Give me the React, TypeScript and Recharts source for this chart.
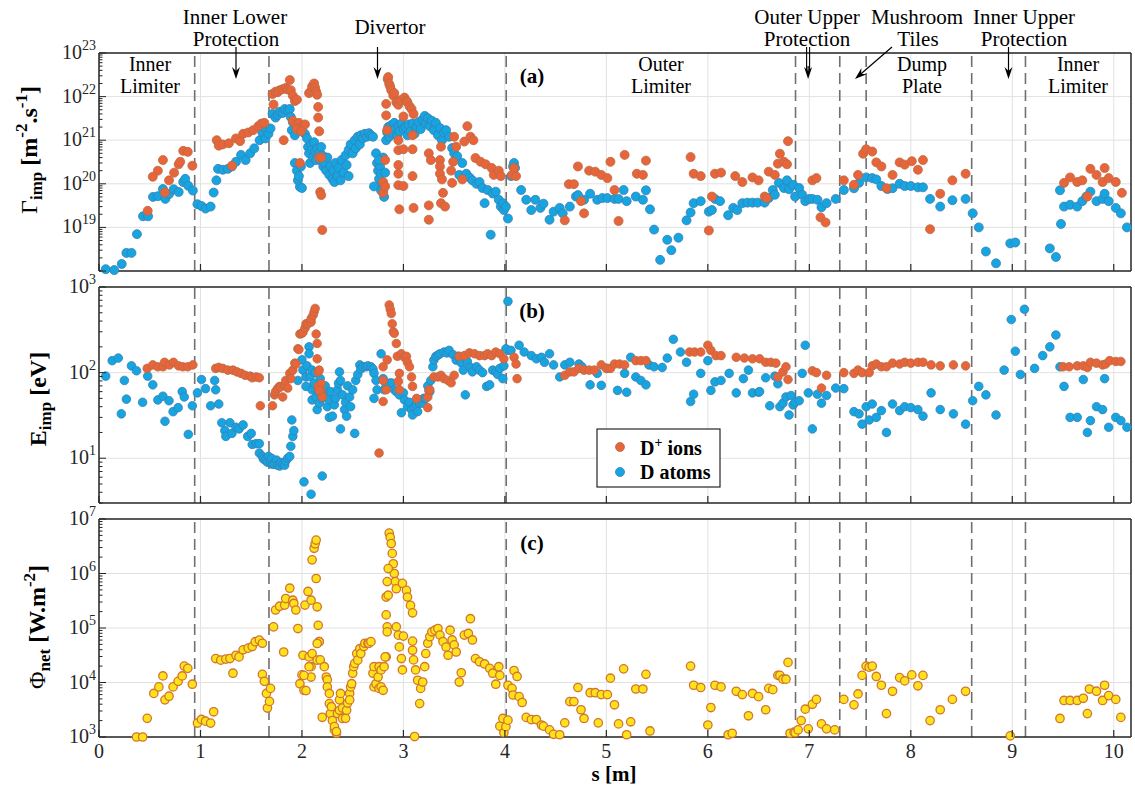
import React from 'react';
import { ScatterChart, Scatter, XAxis, YAxis, ReferenceLine } from 'recharts';

const W = 1135;
const H = 785;
const FONT = 'Liberation Serif, Times New Roman, DejaVu Serif, serif';
const AXIS = '#262626';
const GRID = '#e2e2e2';
const DASH = '#707070';
const X_MAX = 10.17;

const xTicks = [0, 1, 2, 3, 4, 5, 6, 7, 8, 9, 10];
// tile boundaries along s [m]
const boundaries = [0.943, 1.675, 4.013, 6.864, 7.3, 7.56, 8.6, 9.13];

// (a) impurity flux [m^-2.s^-1]
const fluxIons: [number, number][] = [
  [0.48, 2.4e19], [0.53, 1.45e20], [0.58, 2e20], [0.63, 3.5e20], [0.65, 6.3e19], [0.69, 1.2e20], [0.74, 1.8e20],
  [0.785, 2.8e20], [0.8, 3.2e20], [0.83, 5.7e20], [0.875, 5.4e20], [0.92, 2.6e20],
  [1.16, 1e21], [1.18, 7.5e20], [1.22, 8e20], [1.28, 8.5e20], [1.31, 2.6e20], [1.35, 1.1e21], [1.39, 9.5e20],
  [1.42, 1.4e21], [1.47, 1.5e21], [1.52, 1.7e21], [1.57, 2.1e21], [1.6, 2.4e21], [1.63, 2.5e21],
  [1.71, 1.15e22], [1.72, 6.6e21], [1.74, 1.3e22], [1.76, 1.26e22], [1.78, 1.4e22], [1.81, 1.48e22], [1.84, 1.58e22],
  [1.86, 1.45e22], [1.88, 2.4e22], [1.89, 1.4e22], [1.91, 1.05e22], [1.93, 7.9e21], [1.95, 8.5e21], [1.82, 1e21],
  [1.91, 2.8e21], [1.94, 2.2e21], [1.97, 2.5e21], [2.0, 2e21], [2.03, 2.3e21], [1.95, 1.8e21], [1.99, 1.6e21], [1.98, 3e20],
  [2.07, 1.2e22], [2.09, 1.35e22], [2.1, 1.7e22], [2.12, 2e22], [2.13, 1.6e22], [2.14, 1.3e22], [2.15, 1.1e22],
  [2.16, 5.8e21], [2.16, 3.3e21], [2.17, 1.6e21], [2.17, 4e20], [2.18, 6.5e19], [2.19, 5.5e19], [2.2, 8.7e18], [2.19, 4e20],
  [2.83, 6.8e21], [2.83, 3.7e21], [2.84, 1.7e21], [2.82, 3.5e20], [2.8, 1.1e20], [2.8, 6.2e19], [2.82, 8.7e19],
  [2.845, 2.5e22], [2.85, 2.8e22], [2.86, 1.95e22], [2.87, 1.7e22], [2.88, 1.4e22], [2.9, 1.05e22], [2.91, 1.2e22],
  [2.93, 7.4e21], [2.95, 6.5e21], [2.97, 8.3e21], [3.01, 9.5e21], [3.03, 8e21], [3.04, 7.4e21], [3.06, 6e21],
  [3.08, 5.2e21], [3.1, 4e21], [3.0, 3.5e21],
  [2.95, 1e21], [2.95, 5.9e20], [2.95, 2.7e20], [2.95, 1.7e20], [2.95, 9.3e19], [3.0, 6.2e20], [3.0, 8.9e19],
  [2.96, 2.6e19], [3.09, 6.2e20], [3.09, 1.5e20], [3.1, 2.8e19], [3.09, 1.3e21], [3.25, 5e20], [3.27, 3.5e20],
  [3.36, 3.5e20], [3.36, 2.5e20], [3.36, 1.7e20], [3.38, 1.26e20], [3.37, 7.1e20], [3.39, 6.2e19], [3.37, 3.6e19],
  [3.41, 3e19], [3.25, 3.2e19], [3.25, 1.5e19], [3.47, 2e20], [3.49, 3.2e20], [3.48, 1.05e20], [3.5, 1.2e21],
  [3.52, 7.1e20], [3.58, 1.26e20], [3.6, 9.3e20], [3.63, 2.1e21], [3.66, 1.2e21], [3.69, 1e21], [3.71, 3.9e20],
  [3.76, 3.2e20], [3.81, 2.8e20], [3.87, 2.3e20], [3.89, 1.6e20], [3.94, 2e20], [3.96, 1.5e20],
  [4.07, 1.6e20], [4.09, 2.3e20], [4.11, 1.5e20],
  [4.59, 1.45e19], [4.63, 9.8e19], [4.68, 9.8e19], [4.72, 2.5e20], [4.75, 4e19], [4.78, 2.1e19], [4.83, 2e20],
  [4.89, 1.9e20], [4.95, 1.6e20], [5.01, 1.35e20], [5.04, 3.2e20], [5.08, 7.2e19], [5.12, 1.4e19], [5.18, 4.6e20],
  [5.3, 1.7e20], [5.36, 1.6e20], [5.39, 3.4e20], [5.83, 4.1e20], [5.86, 1.7e20], [5.93, 1.5e20], [6.01, 8.5e18],
  [6.04, 5.1e19], [6.07, 1.7e20], [6.13, 1.8e20], [6.27, 1.5e20], [6.34, 1.1e20], [6.44, 1.4e20], [6.5, 1.2e20],
  [6.56, 5.1e19], [6.6, 1.9e20], [6.66, 1.6e20], [6.58, 4.7e19], [6.69, 2.9e20], [6.71, 4.9e20], [6.75, 3.2e20],
  [6.78, 2.8e20], [6.79, 9.5e20], [7.03, 1.2e20], [7.07, 1.35e20], [7.11, 1.7e19], [7.16, 1.3e19], [7.34, 1.2e20],
  [7.44, 9.5e19], [7.48, 1.6e20], [7.53, 4.9e20], [7.56, 6.2e20], [7.62, 5.5e20], [7.66, 3.1e20], [7.71, 2.5e20],
  [7.76, 7.9e19], [7.82, 1.6e20], [7.89, 3.1e20], [7.94, 2.75e20], [8.01, 3.3e20], [8.07, 2.1e20], [8.12, 3.5e20],
  [8.19, 9.1e18], [8.29, 5.9e19], [8.41, 1.2e20], [8.54, 1.7e20], [9.51, 1.05e20], [9.57, 1.4e20], [9.64, 1.1e20],
  [9.69, 1.2e20], [9.74, 5.1e19], [9.77, 2.2e20], [9.83, 1.6e20], [9.89, 1.1e20], [9.91, 2.3e20], [9.95, 1.35e20],
  [10.02, 1.1e20], [10.08, 6.2e19],
];

const fluxAtoms: [number, number][] = [
  [0.066, 1.1e18], [0.15, 1.05e18], [0.224, 1.45e18], [0.27, 2.6e18], [0.32, 2.6e18], [0.374, 7e18], [0.434, 1.8e19],
  [0.484, 1.8e19], [0.532, 5e19], [0.58, 5.2e19], [0.63, 7.6e19], [0.654, 4.5e19], [0.69, 5.8e19], [0.736, 7.5e19],
  [0.785, 6.5e19], [0.83, 1.1e20], [0.85, 1.3e20], [0.88, 9e19], [0.925, 7e19], [0.97, 3.4e19], [1.01, 3.1e19],
  [1.05, 2.7e19], [1.1, 3e19], [1.13, 6.3e19], [1.157, 1.2e20], [1.173, 2.2e20], [1.22, 2.1e20], [1.27, 2.2e20],
  [1.31, 2.5e20], [1.35, 3.2e20], [1.4, 4.6e20], [1.445, 3.5e20], [1.49, 5e20], [1.53, 6.5e20], [1.583, 1e21],
  [1.61, 1.5e21], [1.64, 1.9e21], [1.64, 1.1e21], [1.67, 1.4e21], [1.69, 1.86e21],
  [1.71, 4e21], [1.74, 3.3e21], [1.76, 3.8e21], [1.78, 4.5e21], [1.81, 4.2e21], [1.83, 5.2e21], [1.86, 4.8e21],
  [1.88, 5.2e21], [1.89, 3.4e21], [1.91, 2.6e21], [1.9, 1.7e21], [1.93, 1.3e21],
  [1.93, 3e20], [1.95, 2e20], [1.96, 1.2e20], [1.98, 8.5e19], [2.0, 8e19], [1.97, 1.5e20], [1.99, 2.5e20],
  [2.03, 1.4e21], [2.05, 1.1e21], [2.06, 7e20], [2.07, 5e20], [2.08, 3e20], [2.09, 8e20], [2.1, 6e20], [2.11, 4e20],
  [2.12, 9e20], [2.13, 5.5e20], [2.14, 3.5e20], [2.15, 6.5e20], [2.17, 5e20], [2.18, 3.5e20], [2.19, 7e20],
  [2.2, 4.5e20], [2.21, 2.5e20], [2.22, 3e20], [2.24, 2e20], [2.25, 4e20], [2.27, 1.6e20], [2.28, 2.6e20],
  [2.3, 1.3e20], [2.31, 2e20], [2.32, 1.1e20], [2.33, 3e20], [2.35, 1.5e20], [2.36, 2.3e20], [2.38, 1.2e20],
  [2.39, 3.5e20], [2.41, 1.8e20], [2.43, 4.5e20], [2.44, 2.7e20], [2.46, 1.5e20], [2.46, 6e20],
  [2.48, 8e20], [2.5, 5e20], [2.52, 1e21], [2.53, 6.5e20], [2.55, 1.2e21], [2.57, 8e20], [2.58, 1.3e21],
  [2.6, 1.1e21], [2.62, 1.4e21], [2.64, 1.2e21], [2.66, 1.45e21], [2.68, 1.3e21], [2.7, 1.2e21],
  [2.73, 5e20], [2.74, 3e20], [2.75, 2e20], [2.76, 1.3e20], [2.77, 2.5e20], [2.78, 1.7e20], [2.79, 1e20],
  [2.8, 7e19], [2.81, 5e19], [2.78, 7e19], [2.8, 4e20], [2.82, 1.8e20], [2.76, 3.5e20], [2.71, 8.7e19],
  [2.83, 1e21], [2.84, 1.5e21], [2.85, 2e21], [2.86, 1.2e21], [2.87, 1.7e21], [2.88, 2.2e21], [2.9, 1.4e21],
  [2.91, 2.5e21], [2.92, 1.8e21], [2.94, 1.3e21], [2.95, 2.1e21], [2.96, 1.6e21], [2.98, 2.4e21], [3.0, 1.8e21],
  [3.02, 2e21], [3.04, 1.3e21], [3.05, 2.3e21], [3.07, 1.6e21], [3.09, 2.4e21], [3.11, 1.4e21], [3.13, 2e21],
  [3.15, 2.6e21], [3.17, 1.8e21], [3.19, 3e21], [3.21, 3.6e21], [3.22, 2.4e21], [3.24, 3.2e21], [3.26, 2.1e21],
  [3.28, 2.8e21], [3.3, 1.7e21], [3.32, 2.5e21], [3.34, 1.3e21], [3.36, 1.9e21], [3.38, 1e21], [3.4, 1.5e21],
  [3.42, 1.7e21], [3.45, 1.2e21], [3.48, 6.6e20], [3.5, 5e20], [3.53, 4.3e20], [3.55, 1.6e20], [3.58, 3e20],
  [3.62, 1.7e20], [3.65, 1.4e20], [3.68, 1.2e20], [3.72, 1e20], [3.75, 1.1e20], [3.78, 8e19], [3.8, 3.6e19],
  [3.83, 7.2e19], [3.86, 6.8e18], [3.88, 6e19], [3.91, 6.6e19], [3.94, 4.3e19], [3.96, 3e19], [3.98, 3.6e19],
  [3.99, 2.5e19], [4.01, 3e19], [4.03, 1.6e19], [4.06, 1.5e20], [4.08, 2.5e20], [4.09, 3e20], [4.1, 2.3e20],
  [4.16, 7.2e19], [4.21, 4.3e19], [4.26, 2.5e19], [4.3, 4.3e19], [4.35, 2.8e19], [4.38, 3.5e19], [4.44, 1.5e19],
  [4.48, 2.3e19], [4.54, 2.8e19], [4.57, 2.1e19], [4.64, 3e19], [4.7, 5.1e19], [4.72, 5.5e19], [4.78, 4.3e19],
  [4.84, 5.9e19], [4.91, 4.3e19], [4.96, 4.7e19], [5.01, 4.7e19], [5.08, 4.5e19], [5.12, 4.5e19], [5.17, 7.2e19],
  [5.2, 4e19], [5.29, 5.1e19], [5.36, 4.3e19], [5.39, 7.1e19], [5.43, 2.6e19], [5.47, 8.9e18], [5.53, 1.8e18],
  [5.6, 5.2e18], [5.64, 3e18], [5.71, 5.8e18], [5.79, 1.45e19], [5.83, 2.2e19], [5.86, 3.6e19], [5.93, 4e19],
  [6.01, 2.3e19], [6.04, 2.5e19], [6.07, 4.5e19], [6.12, 4e19], [6.2, 1.9e19], [6.25, 2.8e19], [6.29, 2.5e19],
  [6.34, 3.6e19], [6.39, 3.7e19], [6.44, 3.7e19], [6.49, 3.7e19], [6.56, 3.7e19], [6.6, 4.7e19], [6.64, 7.2e19],
  [6.66, 5.6e19], [6.7, 1.05e20], [6.75, 8e19], [6.78, 1.2e20], [6.8, 7.5e19], [6.84, 9.5e19], [6.86, 5.1e19],
  [6.9, 8e19], [6.93, 5.6e19], [6.96, 4e19], [7.0, 4.5e19], [7.03, 4.5e19], [7.08, 4.3e19], [7.12, 2.9e19],
  [7.17, 3.6e19], [7.26, 4.5e19], [7.34, 7.2e19], [7.44, 7.9e19], [7.49, 1.05e20], [7.56, 1.4e20], [7.62, 1.35e20],
  [7.66, 1.26e20], [7.71, 8.9e19], [7.77, 7.6e19], [7.82, 7.9e19], [7.89, 1e20], [7.94, 8.9e19], [8.0, 8.9e19],
  [8.07, 8.3e19], [8.12, 8.3e19], [8.19, 4.5e19], [8.29, 3e19], [8.41, 4.2e19], [8.54, 4.5e19], [8.61, 2.1e19],
  [8.67, 1e19], [8.74, 2.8e18], [8.84, 1.5e18], [8.98, 4.3e18], [9.03, 4.5e18], [9.37, 3.3e18], [9.43, 2.1e18],
  [9.48, 1.2e19], [9.47, 7.1e19], [9.51, 3e19], [9.57, 3.3e19], [9.64, 3e19], [9.69, 4e19], [9.73, 5.1e19],
  [9.77, 6.6e19], [9.83, 4e19], [9.89, 4.5e19], [9.91, 5.9e19], [9.95, 4e19], [10.02, 2.8e19], [10.07, 2.1e19],
  [10.13, 1e19],
];

// (b) impact energy [eV]
const energyIons: [number, number][] = [
  [0.475, 112], [0.53, 123], [0.58, 117], [0.63, 117], [0.646, 132], [0.695, 123], [0.734, 132], [0.784, 120],
  [0.826, 117], [0.875, 117], [0.925, 123], [1.15, 112], [1.18, 115], [1.22, 112], [1.27, 107], [1.32, 107],
  [1.36, 102], [1.4, 98], [1.44, 93], [1.49, 91], [1.51, 87], [1.55, 89], [1.58, 87], [1.59, 41],
  [1.71, 41], [1.73, 55], [1.74, 60], [1.76, 65], [1.78, 69], [1.79, 68], [1.81, 52], [1.83, 71], [1.84, 81],
  [1.86, 66], [1.88, 98], [1.89, 85], [1.91, 107], [1.93, 129], [1.94, 126], [1.96, 190], [1.97, 186], [1.98, 282],
  [2.0, 288], [2.01, 295], [2.03, 331], [2.04, 372], [2.06, 372], [2.09, 389], [2.09, 427], [2.11, 468],
  [2.12, 513], [2.13, 562], [2.14, 282], [2.15, 219], [2.15, 145], [2.16, 102], [2.16, 69], [2.17, 107],
  [2.19, 74], [2.19, 60], [2.2, 52], [2.17, 62],
  [2.76, 11.5], [2.8, 117], [2.8, 81], [2.8, 46], [2.83, 63], [2.84, 141], [2.86, 617], [2.87, 550], [2.88, 490],
  [2.89, 372], [2.9, 300], [2.91, 288], [2.93, 219], [2.94, 155], [2.96, 98], [2.95, 79], [2.96, 63], [2.98, 166],
  [3.01, 151], [3.03, 155], [3.04, 132], [3.06, 117], [3.08, 89], [3.09, 69], [3.13, 50], [3.24, 39], [3.24, 52],
  [3.25, 62], [3.26, 63], [3.3, 89], [3.34, 89], [3.37, 93], [3.4, 85], [3.44, 81], [3.47, 76], [3.5, 93],
  [3.55, 155], [3.6, 158], [3.65, 170], [3.7, 166], [3.75, 158], [3.8, 158], [3.83, 166], [3.87, 158], [3.91, 174],
  [3.95, 166], [3.99, 145], [4.09, 151], [4.11, 126], [4.12, 85],
  [4.59, 93], [4.64, 102], [4.68, 102], [4.73, 112], [4.78, 107], [4.83, 107], [4.88, 107], [4.95, 123], [5.0, 112],
  [5.04, 112], [5.08, 126], [5.13, 126], [5.18, 123], [5.29, 138], [5.34, 138], [5.39, 138], [5.82, 174],
  [5.87, 174], [5.93, 174], [6.0, 209], [6.03, 182], [6.08, 158], [6.13, 158], [6.28, 151], [6.36, 148],
  [6.44, 145], [6.51, 145], [6.57, 132], [6.62, 132], [6.67, 129], [6.69, 89], [6.74, 102], [6.77, 117], [6.79, 83],
  [7.03, 105], [7.07, 100], [7.12, 66], [7.17, 93], [7.34, 100], [7.44, 98], [7.48, 107], [7.52, 100], [7.59, 100],
  [7.62, 120], [7.66, 126], [7.71, 117], [7.76, 117], [7.82, 129], [7.89, 126], [7.94, 132], [8.0, 129],
  [8.07, 132], [8.12, 132], [8.2, 123], [8.29, 120], [8.42, 123], [8.54, 120], [9.5, 117], [9.56, 117],
  [9.64, 120], [9.7, 120], [9.74, 115], [9.77, 132], [9.83, 129], [9.89, 123], [9.92, 126], [9.96, 138],
  [10.02, 135], [10.07, 135],
];

const energyAtoms: [number, number][] = [
  [0.066, 91], [0.13, 138], [0.19, 148], [0.22, 33], [0.25, 81], [0.27, 49], [0.32, 120], [0.37, 105], [0.43, 45],
  [0.48, 91], [0.53, 72], [0.58, 48], [0.63, 53], [0.65, 27], [0.69, 47], [0.73, 35], [0.78, 39], [0.82, 60],
  [0.84, 52], [0.88, 19], [0.92, 41], [0.97, 58], [1.01, 83], [1.05, 65], [1.1, 41], [1.14, 81], [1.15, 63],
  [1.18, 43], [1.21, 26], [1.24, 21], [1.25, 18], [1.29, 26], [1.31, 19.5], [1.35, 23], [1.38, 22], [1.42, 24.5],
  [1.465, 18], [1.5, 19.5], [1.51, 14.5], [1.55, 14.8], [1.58, 14.8], [1.58, 11.5], [1.61, 10.5], [1.62, 9.8],
  [1.64, 9.5], [1.66, 9], [1.67, 10.5], [1.69, 8.9], [1.7, 10], [1.71, 8.5], [1.73, 8.5], [1.75, 9.5], [1.76, 8.3],
  [1.78, 8.1], [1.79, 8.9], [1.81, 8.5], [1.83, 8.3], [1.84, 9.3], [1.86, 10], [1.88, 10.5], [1.89, 13.8],
  [1.91, 18], [1.92, 21], [1.9, 28],
  [1.96, 81], [2.0, 141], [2.01, 107], [2.02, 5.3], [2.04, 89], [2.04, 69], [2.05, 120], [2.07, 200], [2.07, 166],
  [2.08, 90], [2.09, 3.8], [2.1, 107], [2.1, 63], [2.1, 48], [2.12, 75], [2.13, 100], [2.14, 52], [2.15, 37],
  [2.16, 60], [2.17, 44], [2.18, 85], [2.2, 6.2], [2.2, 50], [2.22, 58], [2.23, 70], [2.25, 40], [2.27, 48],
  [2.27, 30], [2.28, 60], [2.3, 31], [2.32, 42], [2.33, 50], [2.35, 63], [2.36, 75], [2.37, 102], [2.38, 81],
  [2.38, 22], [2.4, 55], [2.42, 37], [2.43, 45], [2.44, 31], [2.45, 70], [2.47, 52], [2.48, 40], [2.5, 63],
  [2.52, 19.5], [2.53, 81], [2.55, 95], [2.57, 123], [2.58, 110], [2.6, 117], [2.63, 117], [2.65, 120],
  [2.68, 117], [2.7, 110], [2.71, 98], [2.73, 81], [2.71, 50], [2.74, 63], [2.78, 166], [2.8, 85], [2.81, 63],
  [2.83, 69], [2.85, 75], [2.88, 76], [2.91, 63], [2.93, 60], [2.96, 55], [2.98, 34], [3.0, 58], [3.01, 48],
  [3.04, 40], [3.06, 45], [3.08, 37], [3.09, 32], [3.11, 40], [3.13, 42], [3.14, 35], [3.16, 44], [3.19, 44],
  [3.2, 50], [3.22, 50], [3.24, 70], [3.26, 60], [3.27, 81], [3.29, 117], [3.3, 140], [3.32, 155], [3.34, 160],
  [3.36, 166], [3.4, 174], [3.43, 170], [3.45, 182], [3.49, 162], [3.52, 140], [3.54, 155], [3.57, 130],
  [3.59, 107], [3.61, 55], [3.63, 135], [3.66, 115], [3.68, 102], [3.72, 117], [3.75, 107], [3.78, 100],
  [3.82, 69], [3.85, 72], [3.88, 107], [3.91, 102], [3.93, 95], [3.95, 112], [3.98, 85], [3.99, 120],
  [4.03, 680], [4.03, 182], [4.01, 190], [4.06, 182], [4.14, 209], [4.19, 174], [4.26, 158], [4.31, 145],
  [4.36, 151], [4.39, 132], [4.44, 166], [4.48, 123], [4.54, 89], [4.59, 123], [4.64, 132], [4.73, 126],
  [4.76, 117], [4.84, 72], [4.91, 98], [4.95, 71], [5.01, 112], [5.11, 62], [5.18, 98], [5.2, 59], [5.24, 151],
  [5.29, 89], [5.34, 81], [5.39, 72], [5.42, 123], [5.47, 117], [5.55, 115], [5.6, 148], [5.66, 245], [5.73, 174],
  [5.79, 132], [5.83, 46], [5.86, 56], [5.93, 98], [6.0, 138], [6.03, 62], [6.07, 78], [6.13, 81], [6.21, 98],
  [6.28, 58], [6.35, 85], [6.4, 107], [6.44, 58], [6.5, 59], [6.51, 60], [6.57, 87], [6.61, 41], [6.66, 91],
  [6.69, 74], [6.71, 40], [6.74, 44], [6.77, 52], [6.8, 32], [6.82, 54], [6.84, 42], [6.86, 45], [6.9, 47],
  [6.93, 98], [6.96, 209], [6.99, 58], [7.03, 22], [7.08, 56], [7.12, 44], [7.17, 54], [7.26, 66], [7.34, 65],
  [7.44, 35], [7.49, 33], [7.52, 25], [7.56, 40], [7.59, 28], [7.62, 43], [7.66, 30], [7.71, 36], [7.76, 20],
  [7.82, 43], [7.89, 36], [7.94, 40], [8.0, 39], [8.07, 37], [8.12, 31], [8.2, 58], [8.29, 37], [8.42, 33],
  [8.54, 25], [8.61, 47], [8.67, 69], [8.74, 55], [8.84, 32], [8.92, 107], [8.99, 417], [9.03, 178], [9.08, 95],
  [9.12, 550], [9.22, 112], [9.3, 158], [9.37, 200], [9.43, 275], [9.47, 117], [9.51, 69], [9.57, 30], [9.64, 30],
  [9.7, 83], [9.74, 20], [9.77, 27.5], [9.83, 40], [9.89, 37], [9.91, 85], [9.95, 23], [10.02, 30], [10.07, 27.5],
  [10.13, 23],
];

// (c) net heat flux [W.m^-2]
const heatFlux: [number, number][] = [
  [0.37, 1000], [0.43, 1000], [0.475, 2200], [0.54, 6300], [0.59, 8300], [0.63, 13200], [0.65, 4800], [0.69, 5600],
  [0.73, 8300], [0.78, 10500], [0.82, 13200], [0.84, 20000], [0.875, 18200], [0.92, 9300], [0.97, 1800],
  [1.01, 2100], [1.05, 1950], [1.1, 1800], [1.13, 2900], [1.15, 27500], [1.2, 25700], [1.25, 26900], [1.29, 27500],
  [1.32, 14800], [1.35, 31600], [1.38, 29500], [1.42, 39800], [1.47, 42700], [1.51, 45700], [1.54, 56000],
  [1.58, 60000], [1.61, 52500], [1.61, 14100], [1.63, 10500], [1.65, 6300], [1.66, 3400], [1.69, 7800], [1.68, 4500],
  [1.72, 105000], [1.74, 214000], [1.78, 251000], [1.83, 263000], [1.84, 347000], [1.88, 537000], [1.91, 324000],
  [1.92, 282000], [1.82, 36300], [1.94, 214000], [1.96, 97700], [1.98, 9500], [2.0, 13800], [2.01, 31600],
  [2.02, 7200], [2.03, 263000], [2.06, 468000], [2.09, 324000], [2.07, 29500], [2.09, 19500], [2.09, 12600],
  [2.02, 13500], [2.04, 7100], [2.07, 19500], [2.1, 33900], [2.15, 25700], [2.17, 56200],
  [2.1, 1.78e6], [2.12, 2.9e6], [2.13, 3.5e6], [2.14, 4.1e6], [2.14, 8.1e5], [2.15, 2.45e5], [2.16, 1.12e5],
  [2.17, 5.6e4], [2.18, 2.6e4], [2.15, 5.2e4], [2.2, 2300], [2.22, 19500], [2.24, 12600], [2.25, 11200],
  [2.25, 8300], [2.27, 6300], [2.27, 4100], [2.28, 2700], [2.29, 3600], [2.3, 2000], [2.32, 1350], [2.32, 1550],
  [2.34, 1170], [2.34, 1260], [2.35, 2700], [2.37, 4800], [2.37, 3090], [2.38, 6300], [2.4, 3400], [2.4, 2190],
  [2.43, 2200], [2.44, 3090], [2.45, 4200], [2.47, 6300], [2.47, 4790], [2.48, 8300], [2.49, 9500], [2.5, 14800],
  [2.51, 19500], [2.52, 22400], [2.54, 33900], [2.55, 25700], [2.57, 41700], [2.58, 33900], [2.61, 45700],
  [2.62, 52500], [2.65, 52500], [2.66, 52500], [2.68, 56200], [2.7, 14800], [2.71, 19500], [2.71, 8300],
  [2.73, 9500], [2.75, 12600], [2.76, 7800], [2.76, 19500], [2.78, 17000], [2.78, 8300], [2.8, 7200],
  [2.81, 19500], [2.83, 29500], [2.84, 1.05e5], [2.83, 3.7e5], [2.86, 5.5e6], [2.87, 4.6e6], [2.88, 3.55e6],
  [2.89, 2.34e6], [2.9, 1.51e6], [2.91, 1e6], [2.92, 7.1e5], [2.93, 5.25e5], [2.99, 6.6e5], [3.03, 4.9e5],
  [3.04, 3.7e5], [3.07, 2.6e5], [3.09, 1.9e5], [2.85, 1.23e6], [2.84, 7.1e5], [2.85, 4e5], [2.83, 1.74e5],
  [2.84, 8.5e4], [2.82, 2.95e4], [2.93, 1.05e5], [2.95, 7.4e4], [2.96, 4.5e4], [2.98, 2.75e4], [2.99, 1.7e4],
  [3.0, 7.1e4], [3.09, 5.75e4], [3.09, 3.9e4], [3.1, 2.6e4], [3.12, 1.7e4], [3.14, 1.1e4], [3.17, 7800],
  [3.16, 4100], [3.11, 1020], [3.19, 10200], [3.21, 19500], [3.22, 33900], [3.24, 52500], [3.26, 69200],
  [3.28, 85100], [3.31, 91200], [3.34, 97700], [3.36, 74100], [3.39, 56200], [3.42, 44700], [3.44, 31600],
  [3.46, 91200], [3.48, 60300], [3.5, 49000], [3.52, 36300], [3.55, 10200], [3.57, 15100], [3.6, 74100],
  [3.64, 79400], [3.66, 1.48e5], [3.68, 60300], [3.71, 27500], [3.75, 24000], [3.8, 21900], [3.85, 18200],
  [3.88, 14800], [3.91, 9300], [3.94, 19500], [3.95, 13500], [3.95, 1580], [3.98, 2190], [3.99, 1200],
  [4.01, 1550], [4.03, 2040], [4.03, 8900], [4.07, 7800], [4.08, 5900], [4.09, 16600], [4.12, 12900],
  [4.14, 5500], [4.17, 4300], [4.21, 2290], [4.26, 2090], [4.31, 2090], [4.36, 1660], [4.38, 1580], [4.44, 1350],
  [4.48, 1120], [4.54, 1100], [4.59, 1820], [4.64, 4470], [4.68, 4470], [4.72, 8100], [4.75, 3160], [4.78, 2190],
  [4.84, 6500], [4.89, 6500], [4.92, 1820], [4.95, 6000], [5.01, 6000], [5.04, 12000], [5.08, 3900], [5.12, 1740],
  [5.17, 17800], [5.2, 1100], [5.24, 1900], [5.29, 7600], [5.36, 7600], [5.39, 14100], [5.43, 1290], [5.83, 20000],
  [5.86, 8900], [5.93, 8100], [6.0, 1660], [6.03, 3470], [6.07, 8900], [6.13, 8300], [6.2, 1100], [6.24, 1170],
  [6.28, 6900], [6.34, 6000], [6.4, 2450], [6.44, 6300], [6.5, 5500], [6.57, 3160], [6.6, 7800], [6.64, 7400],
  [6.69, 13500], [6.71, 13500], [6.74, 11500], [6.77, 11500], [6.79, 23400], [6.81, 1170], [6.85, 1230],
  [6.86, 1200], [6.89, 1350], [6.92, 2000], [6.96, 3240], [6.99, 1410], [7.03, 3980], [7.07, 4900], [7.12, 1740],
  [7.17, 1410], [7.25, 1350], [7.34, 4900], [7.44, 3890], [7.48, 6170], [7.52, 13500], [7.56, 20000],
  [7.59, 19100], [7.62, 20000], [7.66, 12900], [7.71, 8900], [7.76, 2690], [7.82, 6900], [7.89, 12300],
  [7.94, 10700], [8.01, 13800], [8.07, 8700], [8.12, 13500], [8.19, 2000], [8.29, 3160], [8.41, 4900],
  [8.54, 6900], [8.98, 1050], [9.47, 2190], [9.51, 4680], [9.57, 4680], [9.64, 4680], [9.7, 5130], [9.74, 2690],
  [9.76, 7590], [9.83, 6920], [9.89, 4680], [9.91, 8910], [9.95, 5750], [10.02, 4900], [10.07, 2290],
];

const toPoints = (arr: [number, number][]) => arr.map(([x, y]) => ({ x, y }));

const minorTicks = (lo: number, hi: number, min: number, max: number) => {
  const out: number[] = [];
  for (let e = lo; e <= hi; e++) for (let m = 2; m <= 9; m++) {
    const v = m * 10 ** e;
    if (v >= min && v <= max) out.push(v);
  }
  return out;
};

const isMajor = (v: number) => Math.abs(Math.log10(v) - Math.round(Math.log10(v))) < 1e-6;

const makeYTick = (side: 'left' | 'right', labels: number[]) => (props: any) => {
  const { x, y, payload } = props;
  const v = payload.value;
  const major = isMajor(v);
  const len = major ? 7 : 3.5;
  const e = Math.round(Math.log10(v));
  return (
    <g>
      <line x1={x} x2={side === 'left' ? x + len : x - len} y1={y} y2={y} stroke={AXIS} strokeWidth={1} />
      {side === 'left' && major && labels.includes(e) && (
        <text x={x - 3} y={y + 6} textAnchor="end" fontSize={20} fill={AXIS} fontFamily={FONT}>
          10<tspan dy={-9} fontSize={14}>{e}</tspan>
        </text>
      )}
    </g>
  );
};

const makeXTick = (side: 'top' | 'bottom', showLabel: boolean) => (props: any) => {
  const { x, y, payload } = props;
  return (
    <g>
      <line x1={x} x2={x} y1={y} y2={side === 'top' ? y + 7 : y - 7} stroke={AXIS} strokeWidth={1.2} />
      {showLabel && (
        <text x={x} y={y + 21} textAnchor="middle" fontSize={20} fill={AXIS} fontFamily={FONT}>
          {payload.value}
        </text>
      )}
    </g>
  );
};

type Series = { data: [number, number][]; fill: string; stroke: string; r: number; sw: number };

// axes get 1px of room each (a zero-sized axis is not drawn), so margins are one less than the plot edges
function Panel({ top, bottom, domain, majors, minors, labels, series, xLabels }: {
  top: number; bottom: number; domain: [number, number]; majors: number[]; minors: number[];
  labels: number[]; series: Series[]; xLabels: boolean;
}) {
  const yTicks = [...majors, ...minors];
  const axisLine = { stroke: AXIS, strokeWidth: 1.5 };
  return (
    <div style={{ position: 'absolute', left: 0, top: 0 }}>
      <ScatterChart width={W} height={H} margin={{ top: top - 1, bottom: H - bottom - 1, left: 98, right: 3 }}>
        {majors.map((v) => <ReferenceLine key={'h' + v} y={v} stroke={GRID} strokeWidth={1} />)}
        {xTicks.map((v) => <ReferenceLine key={'v' + v} x={v} stroke={GRID} strokeWidth={1} />)}
        {boundaries.map((v) => (
          <ReferenceLine key={'b' + v} x={v} stroke={DASH} strokeWidth={1.6} strokeDasharray="11 6" />
        ))}
        <XAxis type="number" dataKey="x" domain={[0, X_MAX]} ticks={xTicks} interval={0} height={1}
          tickSize={0} tickMargin={0} tickLine={false} axisLine={axisLine} tick={makeXTick('bottom', xLabels)} />
        <XAxis xAxisId="top" orientation="top" type="number" domain={[0, X_MAX]} ticks={xTicks} interval={0}
          height={1} tickSize={0} tickMargin={0} tickLine={false} axisLine={axisLine} tick={makeXTick('top', false)} />
        <YAxis type="number" dataKey="y" scale="log" domain={domain} ticks={yTicks} interval={0} width={1}
          tickSize={0} tickMargin={0} tickLine={false} axisLine={axisLine} tick={makeYTick('left', labels)} />
        <YAxis yAxisId="right" orientation="right" type="number" scale="log" domain={domain} ticks={yTicks}
          interval={0} width={1} tickSize={0} tickMargin={0} tickLine={false} axisLine={axisLine}
          tick={makeYTick('right', labels)} />
        {series.map((s, i) => (
          <Scatter
            key={i}
            data={toPoints(s.data)}
            isAnimationActive={false}
            shape={(p: any) => (
              <circle cx={p.cx} cy={p.cy} r={s.r} fill={s.fill} stroke={s.stroke} strokeWidth={s.sw} />
            )}
          />
        ))}
      </ScatterChart>
    </div>
  );
}

function Arrow({ x1, y1, x2, y2 }: { x1: number; y1: number; x2: number; y2: number }) {
  const len = Math.hypot(x2 - x1, y2 - y1);
  const ux = (x2 - x1) / len;
  const uy = (y2 - y1) / len;
  const bx = x2 - ux * 12;
  const by = y2 - uy * 12;
  const nx = -uy * 4;
  const ny = ux * 4;
  const kx = x2 - ux * 8;
  const ky = y2 - uy * 8;
  return (
    <g>
      <line x1={x1} y1={y1} x2={kx} y2={ky} stroke="#000" strokeWidth={1.2} />
      <polygon points={`${x2},${y2} ${bx + nx},${by + ny} ${kx},${ky} ${bx - nx},${by - ny}`} fill="#000" />
    </g>
  );
}

const ION = { fill: '#E8643A', stroke: '#B86C42' };
const ATOM = { fill: '#15A5E0', stroke: '#3C7DB3' };
const HEAT = { fill: '#FFE31A', stroke: '#D2752E' };

export default function App() {
  const t = { fontFamily: FONT, fill: '#000', fontSize: 21 } as const;
  const inner = { fontFamily: FONT, fill: '#000', fontSize: 20 } as const;
  return (
    <div style={{ position: 'absolute', left: 0, top: 0, width: W, height: H, background: '#fff', fontFamily: FONT }}>
      <Panel top={53} bottom={271} domain={[1e18, 1e23]} majors={[1e18, 1e19, 1e20, 1e21, 1e22, 1e23]}
        minors={minorTicks(18, 22, 1e18, 1e23)} labels={[19, 20, 21, 22, 23]} xLabels={false}
        series={[{ data: fluxAtoms, ...ATOM, r: 4.5, sw: 0.8 }, { data: fluxIons, ...ION, r: 4.5, sw: 0.8 }]} />
      <Panel top={287} bottom={503} domain={[3, 1000]} majors={[10, 100, 1000]}
        minors={minorTicks(0, 2, 3, 1000)} labels={[1, 2, 3]} xLabels={false}
        series={[{ data: energyAtoms, ...ATOM, r: 4.3, sw: 0.8 }, { data: energyIons, ...ION, r: 4.3, sw: 0.8 }]} />
      <Panel top={519} bottom={737} domain={[1e3, 1e7]} majors={[1e3, 1e4, 1e5, 1e6, 1e7]}
        minors={minorTicks(3, 6, 1e3, 1e7)} labels={[3, 4, 5, 6, 7]} xLabels={true}
        series={[{ data: heatFlux, ...HEAT, r: 4.2, sw: 1.3 }]} />

      <svg width={W} height={H} style={{ position: 'absolute', left: 0, top: 0, pointerEvents: 'none' }}>
        {/* region names above the plot */}
        <text x={235} y={24} textAnchor="middle" {...t}>Inner Lower</text>
        <text x={236} y={46} textAnchor="middle" {...t}>Protection</text>
        <Arrow x1={236} y1={47} x2={236} y2={79} />
        <text x={390} y={34} textAnchor="middle" {...t}>Divertor</text>
        <Arrow x1={377.5} y1={47} x2={377.5} y2={79} />
        <text x={807} y={24} textAnchor="middle" {...t}>Outer Upper</text>
        <text x={807} y={46} textAnchor="middle" {...t}>Protection</text>
        <line x1={806.6} y1={47} x2={806.6} y2={72} stroke="#000" strokeWidth={1.1} />
        <line x1={809.6} y1={47} x2={809.6} y2={72} stroke="#000" strokeWidth={1.1} />
        <Arrow x1={808.1} y1={66} x2={808.1} y2={79} />
        <text x={917} y={24} textAnchor="middle" {...t}>Mushroom</text>
        <text x={918} y={46} textAnchor="middle" {...t}>Tiles</text>
        <Arrow x1={892} y1={47} x2={855} y2={79} />
        <text x={1024} y={24} textAnchor="middle" {...t}>Inner Upper</text>
        <text x={1024} y={46} textAnchor="middle" {...t}>Protection</text>
        <Arrow x1={1008.5} y1={47} x2={1008.5} y2={79} />

        {/* region names inside panel (a) */}
        <text x={150} y={71} textAnchor="middle" {...inner}>Inner</text>
        <text x={150} y={93} textAnchor="middle" {...inner}>Limiter</text>
        <text x={661} y={71} textAnchor="middle" {...inner}>Outer</text>
        <text x={661} y={93} textAnchor="middle" {...inner}>Limiter</text>
        <text x={922} y={71} textAnchor="middle" {...inner}>Dump</text>
        <text x={922} y={93} textAnchor="middle" {...inner}>Plate</text>
        <text x={1078} y={71} textAnchor="middle" {...inner}>Inner</text>
        <text x={1078} y={93} textAnchor="middle" {...inner}>Limiter</text>

        <text x={532} y={83} textAnchor="middle" {...t} fontWeight="bold">(a)</text>
        <text x={532} y={318} textAnchor="middle" {...t} fontWeight="bold">(b)</text>
        <text x={532} y={550} textAnchor="middle" {...t} fontWeight="bold">(c)</text>

        {/* axis titles */}
        <text transform="translate(37,150) rotate(-90)" textAnchor="middle" fontFamily={FONT} fontSize={24}
          fontWeight="bold" fill="#000">
          <tspan fontWeight="normal">Γ</tspan>
          <tspan dy={5} fontSize={17}>imp</tspan>
          <tspan dy={-5}> [m</tspan>
          <tspan dy={-10} fontSize={17}>-2</tspan>
          <tspan dy={10}>.s</tspan>
          <tspan dy={-10} fontSize={17}>-1</tspan>
          <tspan dy={10}>]</tspan>
        </text>
        <text transform="translate(46,399) rotate(-90)" textAnchor="middle" fontFamily={FONT} fontSize={24}
          fontWeight="bold" fill="#000">
          E<tspan dy={5} fontSize={17}>imp</tspan>
          <tspan dy={-5}> [eV]</tspan>
        </text>
        <text transform="translate(45,627) rotate(-90)" textAnchor="middle" fontFamily={FONT} fontSize={24}
          fontWeight="bold" fill="#000">
          <tspan fontWeight="normal">Φ</tspan>
          <tspan dy={5} fontSize={17}>net</tspan>
          <tspan dy={-5}> [W.m</tspan>
          <tspan dy={-10} fontSize={17}>-2</tspan>
          <tspan dy={10}>]</tspan>
        </text>
        <text x={614} y={781} textAnchor="middle" fontFamily={FONT} fontSize={21} fontWeight="bold" fill="#000">
          s [m]
        </text>

        {/* legend */}
        <rect x={597} y={429} width={123} height={58} fill="#fff" stroke={AXIS} strokeWidth={1.2} />
        <circle cx={620} cy={447} r={4.5} fill={ION.fill} stroke={ION.stroke} strokeWidth={0.8} />
        <circle cx={620} cy={472} r={4.5} fill={ATOM.fill} stroke={ATOM.stroke} strokeWidth={0.8} />
        <text x={640} y={455} fontFamily={FONT} fontSize={20} fontWeight="bold" fill="#000">
          D<tspan dy={-8} fontSize={14}>+</tspan><tspan dy={8}> ions</tspan>
        </text>
        <text x={640} y={479} fontFamily={FONT} fontSize={20} fontWeight="bold" fill="#000">D atoms</text>
      </svg>
    </div>
  );
}
